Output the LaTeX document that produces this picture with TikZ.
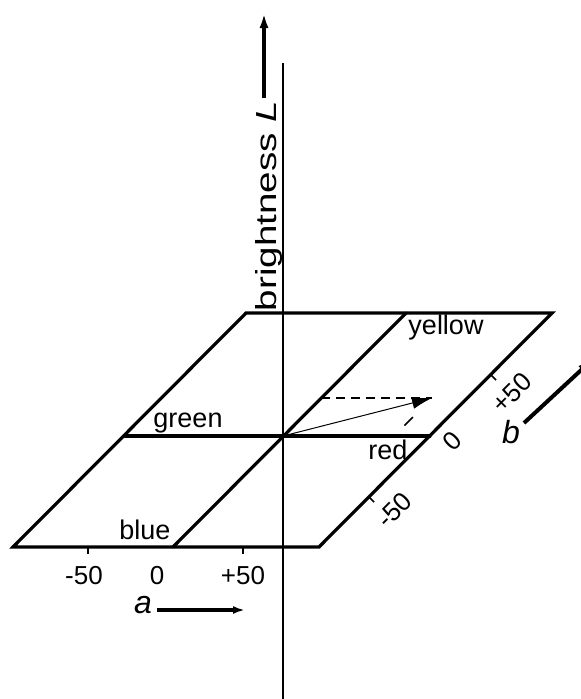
\documentclass[tikz,border=0pt]{standalone}
\usepackage{fontspec}
\setmainfont{Liberation Sans}
\usetikzlibrary{arrows.meta}
\begin{document}
\begin{tikzpicture}[x=1pt, y=-1pt, inner sep=0pt,
  plane/.style={line width=3.2pt, line cap=round},
  axisarrow/.style={line width=4pt, -{Latex[length=15pt, width=9pt]}},
  lbl/.style={font=\fontsize{27}{30}\selectfont},
  num/.style={font=\fontsize{26}{30}\selectfont}]
\useasboundingbox (0,0) rectangle (581,699);

\coordinate (bl) at (13,547);
\coordinate (br) at (319,547);
\coordinate (tl) at (246,313);
\coordinate (tr) at (552,313);
\coordinate (ml) at (124,436);
\coordinate (mr) at (430,436);
\coordinate (o) at (283,436);
\coordinate (mb) at (173,547);
\coordinate (mt) at (406,313);
\coordinate (ltop) at (283,63);
\coordinate (lbot) at (283,699);

\draw[line width=1.4pt] (ltop) -- (lbot);
\draw[plane] (bl) -- (br) -- (tr) -- (tl) -- cycle;
\draw[plane] (ml) -- (mr);
\draw[plane] (mb) -- (mt);

% ticks
\coordinate (ta1) at (88,547);
\coordinate (ta2) at (243,547);
\draw[line width=1.5pt] (ta1) -- +(0,7);
\draw[line width=1.5pt] (ta2) -- +(0,7);
\coordinate (tb1) at (369,497);
\coordinate (tb2) at (491,375);
\draw[line width=1.5pt] (tb1) -- +(5,5);
\draw[line width=1.5pt] (tb2) -- +(5,5);

% colour vector
\coordinate (tip) at (432,398);
\coordinate (dstart) at (321,398);
\coordinate (dfoot) at (394,436);
\draw[line width=1.5pt, dash pattern=on 9pt off 6pt] (dstart) -- (tip);
\draw[line width=1pt, -{Latex[length=20pt, width=12pt]}] (o) -- (tip);
\draw[line width=1.5pt, dash pattern=on 0pt off 27pt on 12pt off 40pt] (tip) -- (dfoot);

\node (yellow) [lbl] at (446,328) {yellow};
\node (green) [lbl] at (188,423) {green};
\node (red) [lbl] at (388,450) {red};
\node (blue) [lbl] at (145,530) {blue};

\node (bright) [lbl, rotate=90, font=\fontsize{29}{30}\selectfont] at (269,206) {\scalebox{1.33}[1]{brightness \textit{L}}};
\coordinate (lfrom) at (264,98);
\coordinate (lto) at (264,13);
\draw[axisarrow] (lfrom) -- (lto);

\node (am50) [num] at (84,576) {-50};
\node (a0) [num] at (157,576) {0};
\node (ap50) [num] at (243,576) {+50};
\node (alabel) [font=\fontsize{32}{34}\selectfont\itshape] at (143,605) {a};
\coordinate (afrom) at (157,610);
\coordinate (ato) at (245,610);
\draw[line width=3.5pt, -{Latex[length=12pt, width=8pt]}] (afrom) -- (ato);

\node (bm50) [num, rotate=45] at (394,510) {-50};
\node (b0) [num, rotate=45] at (452,441) {0};
\node (bp50) [num, rotate=45] at (512,393) {+50};
\node (blabel) [font=\fontsize{32}{34}\selectfont\itshape] at (511,432) {b};
\coordinate (bfrom) at (524,423);
\coordinate (bto) at (592,360);
\draw[line width=4pt, -{Latex[length=14pt, width=10pt]}] (bfrom) -- (bto);
\end{tikzpicture}
\end{document}
